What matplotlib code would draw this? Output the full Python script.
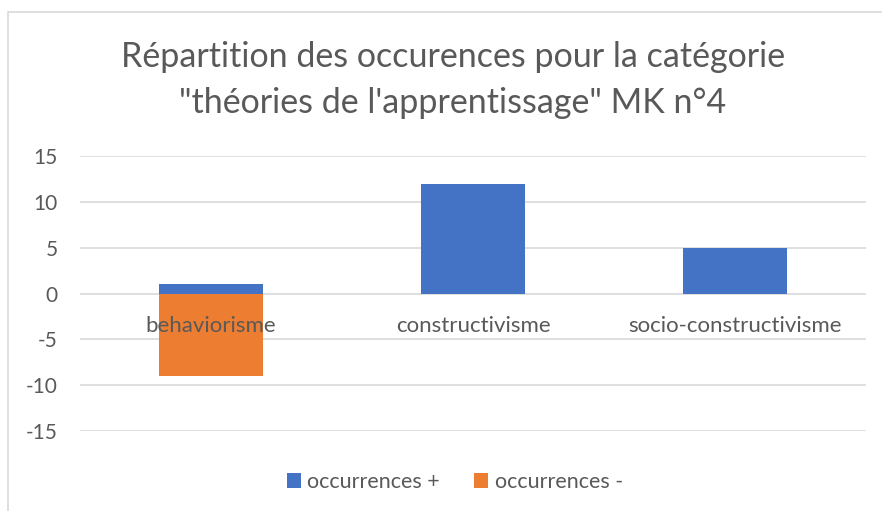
import matplotlib
matplotlib.use("Agg")
import matplotlib.pyplot as plt
from matplotlib.patches import Rectangle

categories = ["behaviorisme", "constructivisme", "socio-constructivisme"]
occ_plus = [1, 12, 5]
occ_minus = [-9, 0, 0]
yticks = [-15, -10, -5, 0, 5, 10, 15]

blue = "#4472C4"
orange = "#ED7D31"
grey_txt = "#595959"
grid_col = "#D9D9D9"

plt.rcParams['font.family'] = ['Lato', 'DejaVu Sans']

fig = plt.figure(figsize=(8.82, 5.11), dpi=100)
# chart border
fig.patches.append(Rectangle((8 / 882, -0.1), 1.2, 1 - 12 / 511 + 0.1,
                             transform=fig.transFigure, fill=False,
                             edgecolor=grid_col, linewidth=1.2))

ax = fig.add_axes([80 / 882, 1 - 431 / 511, 786 / 882, 275 / 511])
x = list(range(len(categories)))
ax.bar(x, occ_plus, width=0.4, color=blue, label="occurrences +", zorder=3)
ax.bar(x, occ_minus, width=0.4, color=orange, label="occurrences -", zorder=3)

ax.set_xlim(-0.5, 2.5)
ax.set_ylim(-15, 15)
ax.set_yticks(yticks)
ax.set_yticklabels([str(v) for v in yticks], fontsize=15, color=grey_txt)
ax.tick_params(axis='y', length=0, pad=16)
ax.set_xticks([])
for s in ax.spines.values():
    s.set_visible(False)
ax.grid(axis='y', color=grid_col, linewidth=1.2, zorder=0)

for xi, c in zip(x, categories):
    ax.text(xi, -3.5, c, ha='center', va='center', fontsize=16,
            color=grey_txt, zorder=4)

title_x = 453 / 882
fig.text(title_x, 1 - 57 / 511, "Répartition des occurences pour la catégorie",
         ha='center', va='center', fontsize=24.5, color=grey_txt)
fig.text(title_x, 1 - 103 / 511, "\"théories de l'apprentissage\" MK n°4",
         ha='center', va='center', fontsize=24.5, color=grey_txt)

fig.legend(loc='center', bbox_to_anchor=(455 / 882, 1 - 482 / 511), ncol=2,
           frameon=False, fontsize=15.5, handlelength=0.65, handleheight=0.65,
           handletextpad=0.3, columnspacing=1.6, labelcolor=grey_txt)

fig.savefig("out.png", dpi=100)
